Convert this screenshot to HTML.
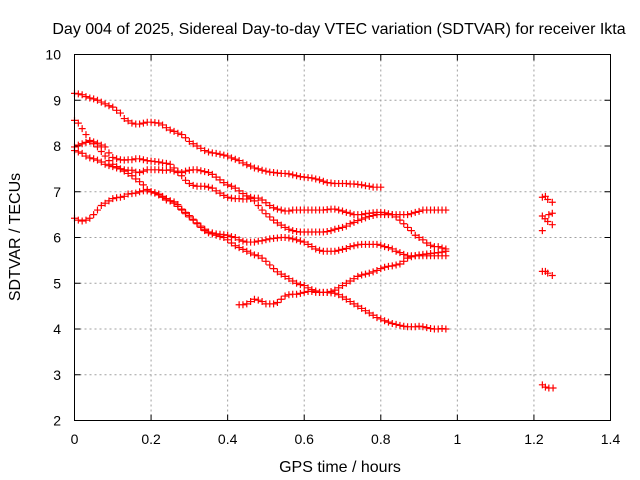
<!DOCTYPE html>
<html><head><meta charset="utf-8"><style>
html,body{margin:0;padding:0;background:#fff;}
svg{display:block;font-family:"Liberation Sans",sans-serif;}
</style></head><body>
<svg id="chart" width="640" height="480" viewBox="0 0 640 480" xmlns="http://www.w3.org/2000/svg">
<rect width="640" height="480" fill="#fff"/>
<text x="339" y="34" font-size="16" text-anchor="middle">Day 004 of 2025, Sidereal Day-to-day VTEC variation (SDTVAR) for receiver Ikta</text>
<text x="340" y="472" font-size="16" text-anchor="middle">GPS time / hours</text>
<text transform="translate(20,237) rotate(-90)" font-size="16" text-anchor="middle">SDTVAR / TECUs</text>
<g id="grid"></g><g id="ticks"></g><g id="marks"></g>
<rect x="74.5" y="54.5" width="536" height="366" fill="none" stroke="#000" stroke-width="1"/>
</svg>
<script>
const xTicks = [0,0.2,0.4,0.6,0.8,1,1.2,1.4];
const xTickLabels = ["0","0.2","0.4","0.6","0.8","1","1.2","1.4"];
const yTicks = [2,3,4,5,6,7,8,9,10];
const yTickLabels = ["2","3","4","5","6","7","8","9","10"];
const seriesAStart = 0;
const seriesA = [9.15,9.14,9.12,9.08,9.05,9.03,9.0,8.96,8.92,8.88,8.85,8.78,8.72,8.6,8.55,8.5,8.48,8.48,8.5,8.52,8.52,8.51,8.5,8.46,8.4,8.35,8.32,8.28,8.25,8.18,8.1,8.05,8.0,7.95,7.9,7.87,7.85,7.84,7.82,7.8,7.78,7.74,7.71,7.68,7.63,7.59,7.56,7.52,7.5,7.47,7.45,7.43,7.42,7.41,7.4,7.4,7.39,7.37,7.35,7.33,7.32,7.31,7.3,7.28,7.26,7.23,7.2,7.19,7.18,7.18,7.18,7.18,7.17,7.17,7.16,7.15,7.13,7.12,7.1,7.1,7.1];
const seriesBStart = 0;
const seriesB = [8.56,8.5,8.38,8.25,8.12,8.05,7.98,7.88,7.78,7.68,7.6,7.55,7.5,7.45,7.4,7.35,7.28,7.22,7.15,7.05,7.0,6.98,6.95,6.9,6.85,6.8,6.75,6.68,6.6,6.52,6.45,6.38,6.3,6.22,6.15,6.1,6.08,6.05,6.02,6.0,5.95,5.88,5.82,5.78,5.74,5.7,5.66,5.62,5.6,5.55,5.48,5.4,5.32,5.25,5.2,5.15,5.1,5.05,5.0,4.97,4.95,4.9,4.86,4.83,4.8,4.8,4.8,4.79,4.78,4.75,4.7,4.65,4.6,4.55,4.5,4.45,4.4,4.35,4.3,4.25,4.22,4.18,4.15,4.12,4.1,4.08,4.06,4.05,4.05,4.05,4.06,4.05,4.03,4.01,4.0,4.0,4.01,4.0];
const seriesCStart = 0;
const seriesC = [7.98,8.02,8.05,8.08,8.1,8.09,8.06,8.02,7.98,7.85,7.75,7.72,7.7,7.69,7.7,7.7,7.72,7.72,7.7,7.68,7.67,7.66,7.65,7.63,7.62,7.6,7.52,7.45,7.35,7.25,7.18,7.14,7.12,7.12,7.12,7.1,7.08,7.02,6.97,6.92,6.88,6.86,6.85,6.85,6.84,6.84,6.85,6.86,6.86,6.82,6.76,6.7,6.65,6.62,6.6,6.58,6.58,6.6,6.6,6.6,6.6,6.6,6.6,6.6,6.6,6.6,6.61,6.62,6.62,6.6,6.58,6.55,6.53,6.5,6.5,6.5,6.52,6.53,6.54,6.55,6.55,6.54,6.52,6.5,6.45,6.38,6.3,6.22,6.15,6.05,6.0,5.95,5.88,5.83,5.8,5.8,5.77,5.75];
const seriesDStart = 0;
const seriesD = [7.9,7.87,7.84,7.78,7.74,7.72,7.69,7.65,7.6,7.57,7.55,7.52,7.5,7.48,7.47,7.47,7.43,7.42,7.45,7.48,7.48,7.48,7.48,7.47,7.47,7.48,7.45,7.42,7.42,7.45,7.47,7.48,7.48,7.46,7.44,7.42,7.38,7.32,7.26,7.2,7.15,7.12,7.08,7.02,6.96,6.91,6.88,6.8,6.7,6.6,6.52,6.45,6.38,6.32,6.27,6.22,6.18,6.15,6.13,6.12,6.12,6.12,6.12,6.12,6.12,6.12,6.13,6.15,6.18,6.2,6.22,6.25,6.3,6.33,6.37,6.4,6.43,6.46,6.48,6.5,6.5,6.5,6.5,6.5,6.5,6.5,6.5,6.5,6.52,6.55,6.57,6.6,6.6,6.6,6.6,6.6,6.6,6.6];
const seriesEStart = 0;
const seriesE = [6.42,6.38,6.36,6.38,6.42,6.5,6.6,6.7,6.75,6.8,6.85,6.87,6.88,6.9,6.95,6.96,6.97,7.0,7.02,7.02,7.0,6.97,6.93,6.88,6.82,6.8,6.78,6.72,6.62,6.55,6.48,6.4,6.32,6.25,6.18,6.12,6.1,6.08,6.07,6.06,6.05,6.02,6.0,5.95,5.92,5.9,5.9,5.9,5.92,5.93,5.95,5.97,5.98,5.99,6.0,6.0,5.99,5.97,5.95,5.92,5.9,5.85,5.8,5.75,5.72,5.7,5.7,5.7,5.7,5.72,5.74,5.76,5.8,5.82,5.84,5.85,5.85,5.85,5.85,5.85,5.83,5.8,5.78,5.75,5.7,5.67,5.63,5.6,5.6,5.6,5.6,5.6,5.6,5.6,5.6,5.6,5.6,5.6];
const seriesFStart = 0.43;
const seriesF = [4.53,4.53,4.55,4.6,4.65,4.63,4.6,4.55,4.55,4.55,4.58,4.65,4.72,4.75,4.76,4.76,4.78,4.8,4.82,4.82,4.8,4.8,4.8,4.8,4.82,4.85,4.9,4.95,5.0,5.05,5.1,5.15,5.18,5.2,5.22,5.25,5.28,5.32,5.35,5.37,5.38,5.4,5.42,5.48,5.55,5.58,5.6,5.62,5.63,5.64,5.65,5.66,5.67,5.68,5.7];
const tailX = [1.222,1.230,1.236,1.248, 1.222,1.229,1.236,1.248,1.239,1.248,1.222, 1.222,1.230,1.236,1.248, 1.222,1.230,1.239,1.250];
const tailY = [6.88,6.90,6.83,6.77, 6.47,6.41,6.35,6.28,6.50,6.53,6.15, 5.26,5.26,5.22,5.17, 2.78,2.73,2.71,2.71];
const seriesStep = 0.01;

const NS = "http://www.w3.org/2000/svg";
const L=74.5,R=610.5,T=54.5,B=420.5;
function xs(v){return L+(v-0)/(1.4-0)*(R-L);}
function ys(v){return B-(v-2)/(10-2)*(B-T);}
function mk(tag,attrs,parent){const e=document.createElementNS(NS,tag);for(const k in attrs)e.setAttribute(k,attrs[k]);parent.appendChild(e);return e;}
const grid=document.getElementById('grid'),ticks=document.getElementById('ticks'),marks=document.getElementById('marks');
xTicks.forEach((t,i)=>{
  if(i>0&&i<xTicks.length-1){
    const g=mk('line',{x1:xs(t),x2:xs(t),y1:T,y2:B,stroke:'#a0a0a0','stroke-dasharray':'2,3','stroke-width':1},grid);
    
    
  }
  const tk=mk('path',{d:`M${xs(t)},${B}v-6M${xs(t)},${T}v6`,stroke:'#000'},ticks);
  
  
  const lb=mk('text',{x:xs(t),y:444,'font-size':14,'text-anchor':'middle'},ticks);
  lb.textContent=xTickLabels[i];
  
  
});
yTicks.forEach((t,i)=>{
  if(i>0&&i<yTicks.length-1){
    const g=mk('line',{x1:L,x2:R,y1:ys(t),y2:ys(t),stroke:'#a0a0a0','stroke-dasharray':'2,3','stroke-width':1},grid);
    
    
  }
  const tk=mk('path',{d:`M${L},${ys(t)}h6M${R},${ys(t)}h-6`,stroke:'#000'},ticks);
  
  
  const lb=mk('text',{x:61,y:ys(t)+5,'font-size':14,'text-anchor':'end'},ticks);
  lb.textContent=yTickLabels[i];
  
  
});
function plus(xv,yv){
  const x=xs(xv),y=ys(yv);
  return `M${x-3.5},${y}h7M${x},${y-3.5}v7`;
}
function drawSeries(name,start,vals){
  let d='';
  vals.forEach((v,i)=>{d+=plus(start+i*seriesStep,v);});
  const p=mk('path',{d:d,stroke:'#f00','stroke-width':1.2,fill:'none'},marks);
  
  
}
drawSeries('series-a',seriesAStart,seriesA);
drawSeries('series-b',seriesBStart,seriesB);
drawSeries('series-c',seriesCStart,seriesC);
drawSeries('series-d',seriesDStart,seriesD);
drawSeries('series-e',seriesEStart,seriesE);
drawSeries('series-f',seriesFStart,seriesF);
let td='';
tailX.forEach((x,i)=>{td+=plus(x,tailY[i]);});
const tp=mk('path',{d:td,stroke:'#f00','stroke-width':1.2,fill:'none'},marks);


</script>
</body></html>
